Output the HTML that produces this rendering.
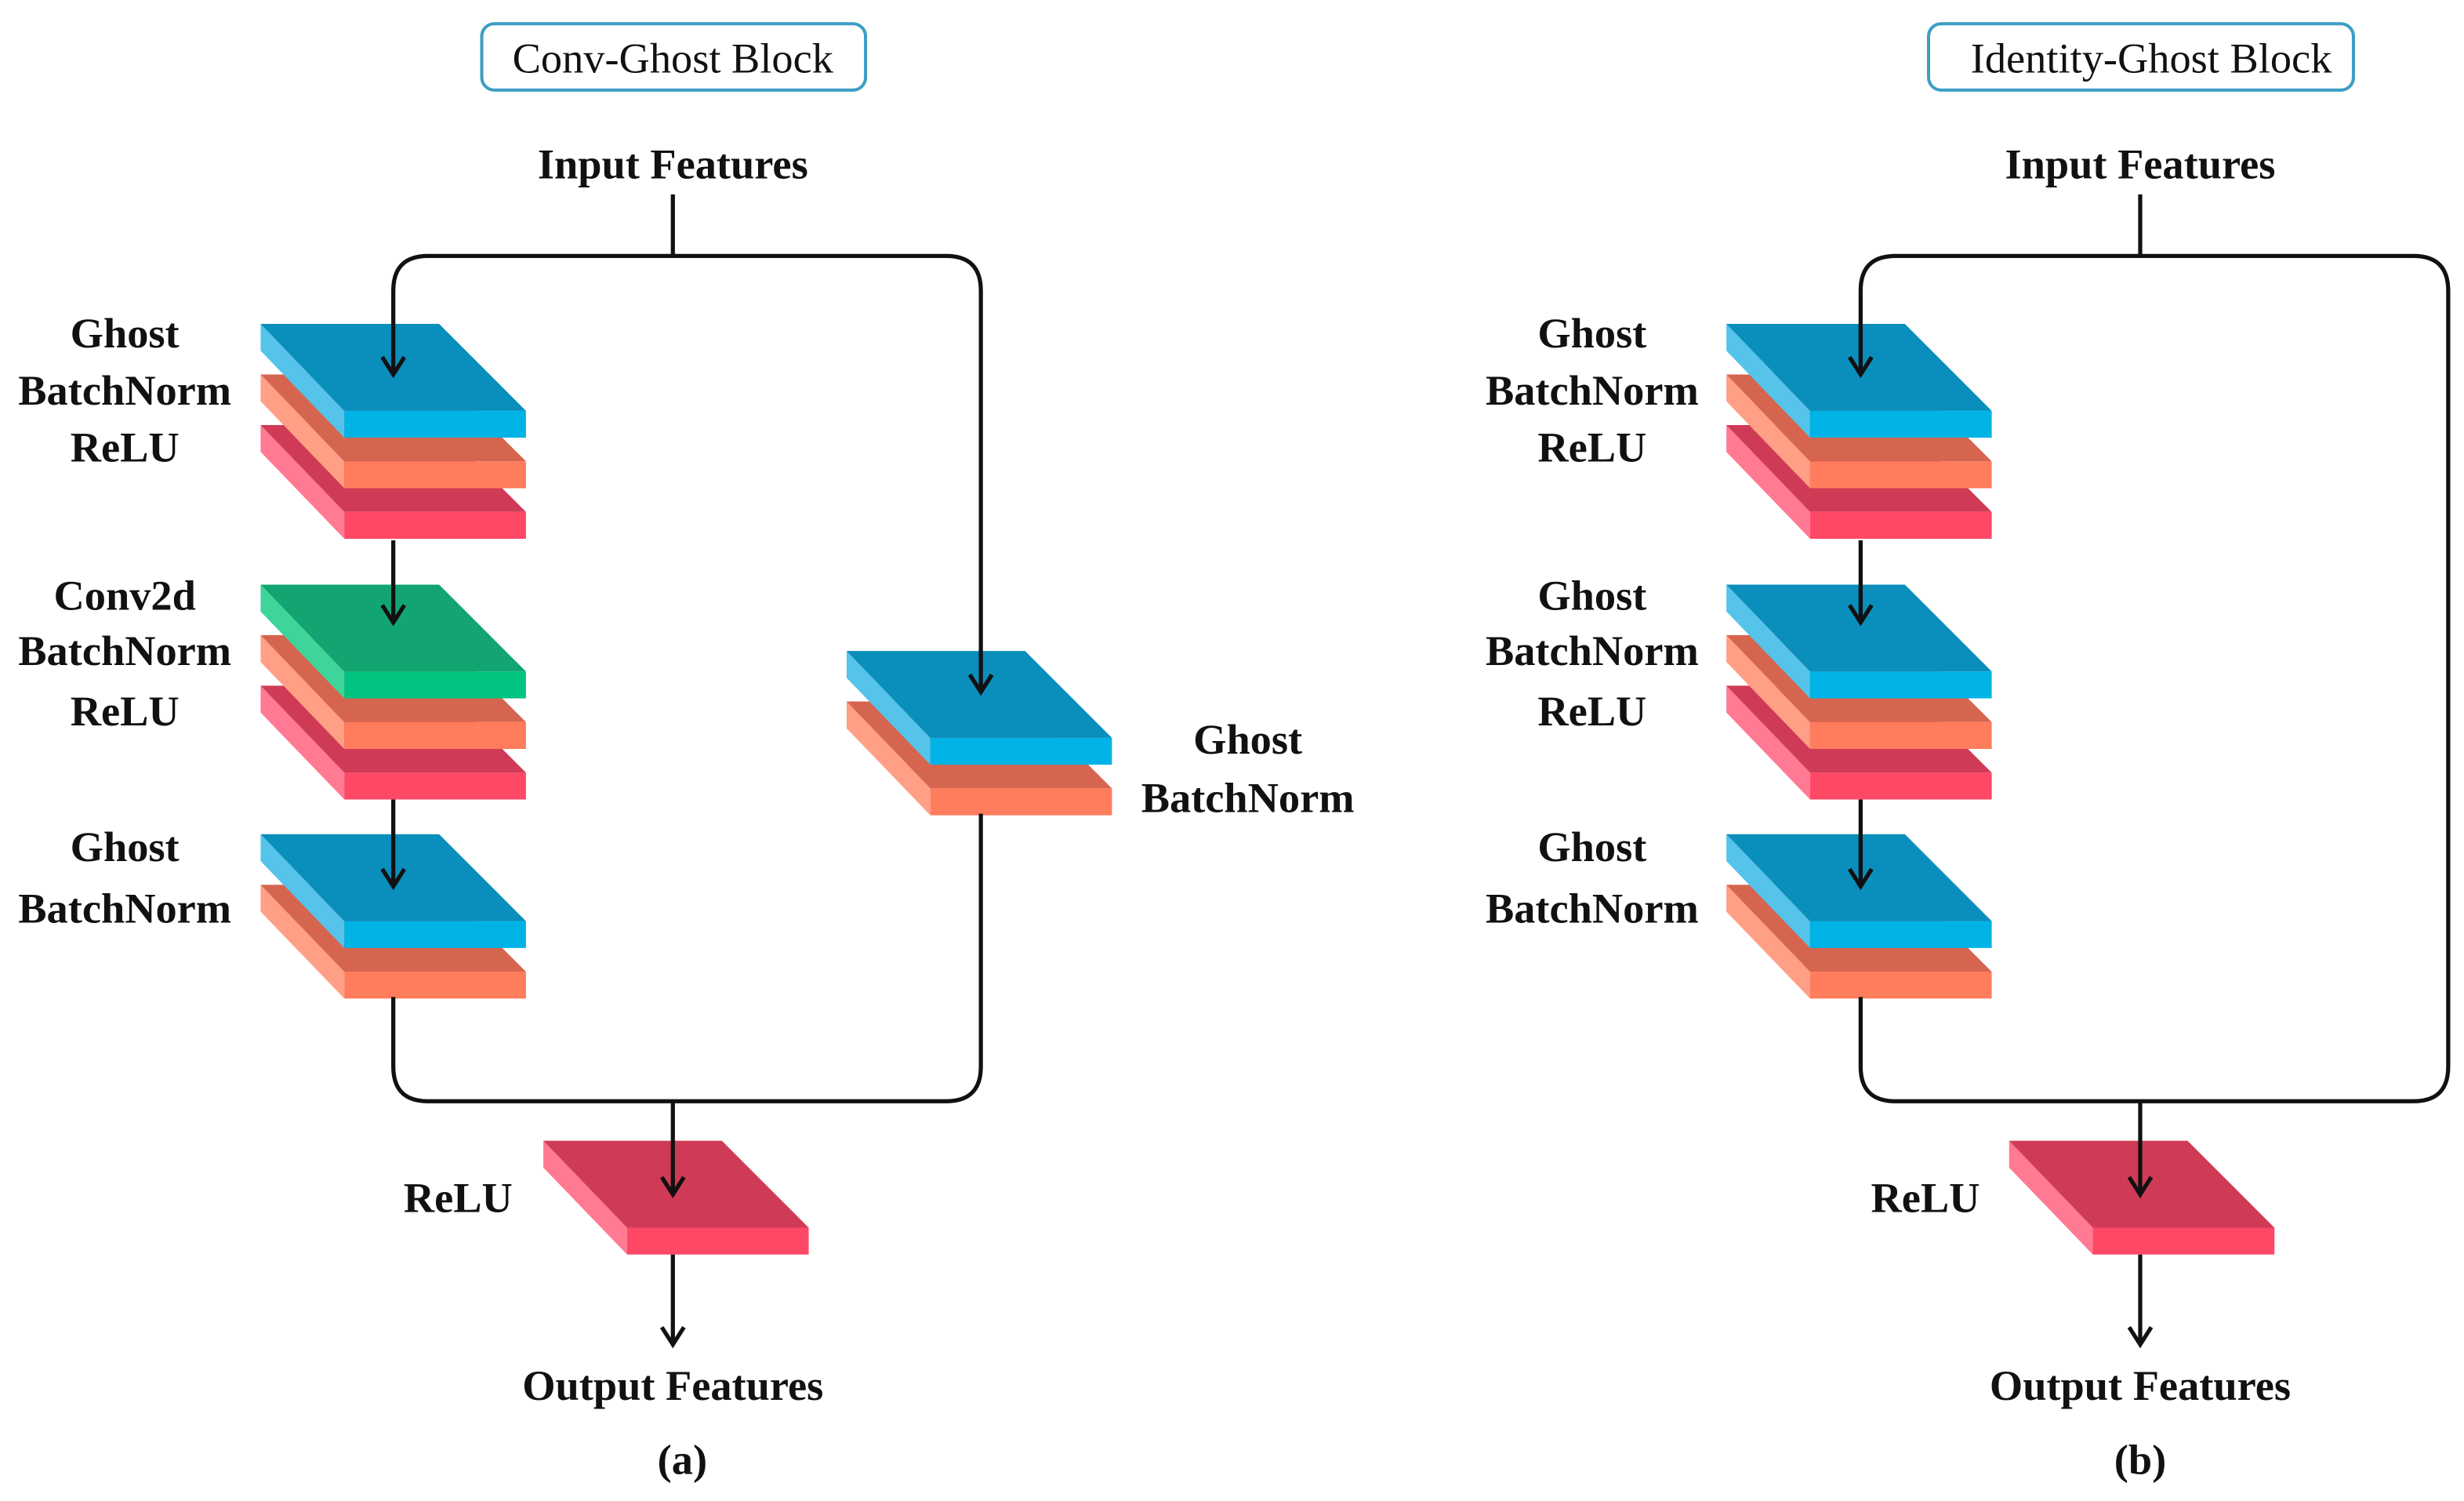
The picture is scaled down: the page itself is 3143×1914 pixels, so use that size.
<!DOCTYPE html>
<html><head><meta charset="utf-8"><style>
html,body{margin:0;padding:0;background:#fff;width:3143px;height:1914px;overflow:hidden}
svg{display:block}
text{font-family:"Liberation Serif",serif;font-weight:bold;fill:#111}
.t{font-size:27px;text-anchor:middle}
.ln{fill:none;stroke:#111;stroke-width:2.6}
</style></head><body>
<svg width="3143" height="1914" viewBox="0 0 1560 950" preserveAspectRatio="none" xmlns="http://www.w3.org/2000/svg">
<defs>
<g id="B"><polygon points="0,0 53,55 53,72 0,17" fill="#55c3ea"/><polygon points="0,0 113,0 168,55 53,55" fill="#0a8ebc"/><rect x="53" y="55" width="115" height="17" fill="#00b3e6"/></g>
<g id="O"><polygon points="0,0 53,55 53,72 0,17" fill="#ff9f85"/><polygon points="0,0 113,0 168,55 53,55" fill="#d6654f"/><rect x="53" y="55" width="115" height="17" fill="#ff7c5c"/></g>
<g id="R"><polygon points="0,0 53,55 53,72 0,17" fill="#ff7a92"/><polygon points="0,0 113,0 168,55 53,55" fill="#cf3b56"/><rect x="53" y="55" width="115" height="17" fill="#ff4766"/></g>
<g id="G"><polygon points="0,0 53,55 53,72 0,17" fill="#3fd49a"/><polygon points="0,0 113,0 168,55 53,55" fill="#12a571"/><rect x="53" y="55" width="115" height="17" fill="#00c47f"/></g>
<g id="arr"><polyline points="-7,-11 0,0 7,-11" fill="none" stroke="#111" stroke-width="2.6"/></g>
</defs>

<g>
<use href="#R" x="165" y="269"/><use href="#O" x="165" y="237"/><use href="#B" x="165" y="205"/>
<use href="#R" x="165" y="434"/><use href="#O" x="165" y="402"/><use href="#G" x="165" y="370"/>
<use href="#O" x="165" y="560"/><use href="#B" x="165" y="528"/>
<use href="#O" x="536" y="444"/><use href="#B" x="536" y="412"/>
<use href="#R" x="344" y="722"/>
<rect x="305" y="15" width="243" height="42" rx="8" fill="none" stroke="#3b9ec2" stroke-width="2"/>
<text x="426" y="46" class="t" style="font-weight:normal">Conv-Ghost Block</text>
<text x="426" y="113" class="t">Input Features</text>
<path class="ln" d="M426 123V162M249 237V184Q249 162 271 162H599Q621 162 621 184V438"/>
<path class="ln" d="M249 342V394M249 506V561M249 631V675Q249 697 271 697H599Q621 697 621 675V515M426 697V756M426 794V851"/>
<use href="#arr" x="249" y="237"/><use href="#arr" x="249" y="394"/><use href="#arr" x="249" y="561"/><use href="#arr" x="621" y="438"/><use href="#arr" x="426" y="756"/><use href="#arr" x="426" y="851"/>
<text x="79" y="220" class="t">Ghost</text><text x="79" y="256" class="t">BatchNorm</text><text x="79" y="292" class="t">ReLU</text>
<text x="79" y="386" class="t">Conv2d</text><text x="79" y="421" class="t">BatchNorm</text><text x="79" y="459" class="t">ReLU</text>
<text x="79" y="545" class="t">Ghost</text><text x="79" y="584" class="t">BatchNorm</text>
<text x="790" y="477" class="t">Ghost</text><text x="790" y="514" class="t">BatchNorm</text>
<text x="290" y="767" class="t">ReLU</text>
<text x="426" y="886" class="t">Output Features</text>
<text x="432" y="933" class="t">(a)</text>
</g>

<g>
<use href="#R" x="1093" y="269"/><use href="#O" x="1093" y="237"/><use href="#B" x="1093" y="205"/>
<use href="#R" x="1093" y="434"/><use href="#O" x="1093" y="402"/><use href="#B" x="1093" y="370"/>
<use href="#O" x="1093" y="560"/><use href="#B" x="1093" y="528"/>
<use href="#R" x="1272" y="722"/>
<rect x="1221" y="15" width="269" height="42" rx="8" fill="none" stroke="#3b9ec2" stroke-width="2"/>
<text x="1362" y="46" class="t" style="font-weight:normal">Identity-Ghost Block</text>
<text x="1355" y="113" class="t">Input Features</text>
<path class="ln" d="M1355 123V162M1178 237V184Q1178 162 1200 162H1528Q1550 162 1550 184V675Q1550 697 1528 697H1200Q1178 697 1178 675V631"/>
<path class="ln" d="M1178 342V394M1178 506V561M1355 697V756M1355 794V851"/>
<use href="#arr" x="1178" y="237"/><use href="#arr" x="1178" y="394"/><use href="#arr" x="1178" y="561"/><use href="#arr" x="1355" y="756"/><use href="#arr" x="1355" y="851"/>
<text x="1008" y="220" class="t">Ghost</text><text x="1008" y="256" class="t">BatchNorm</text><text x="1008" y="292" class="t">ReLU</text>
<text x="1008" y="386" class="t">Ghost</text><text x="1008" y="421" class="t">BatchNorm</text><text x="1008" y="459" class="t">ReLU</text>
<text x="1008" y="545" class="t">Ghost</text><text x="1008" y="584" class="t">BatchNorm</text>
<text x="1219" y="767" class="t">ReLU</text>
<text x="1355" y="886" class="t">Output Features</text>
<text x="1355" y="933" class="t">(b)</text>
</g>
</svg>
</body></html>
